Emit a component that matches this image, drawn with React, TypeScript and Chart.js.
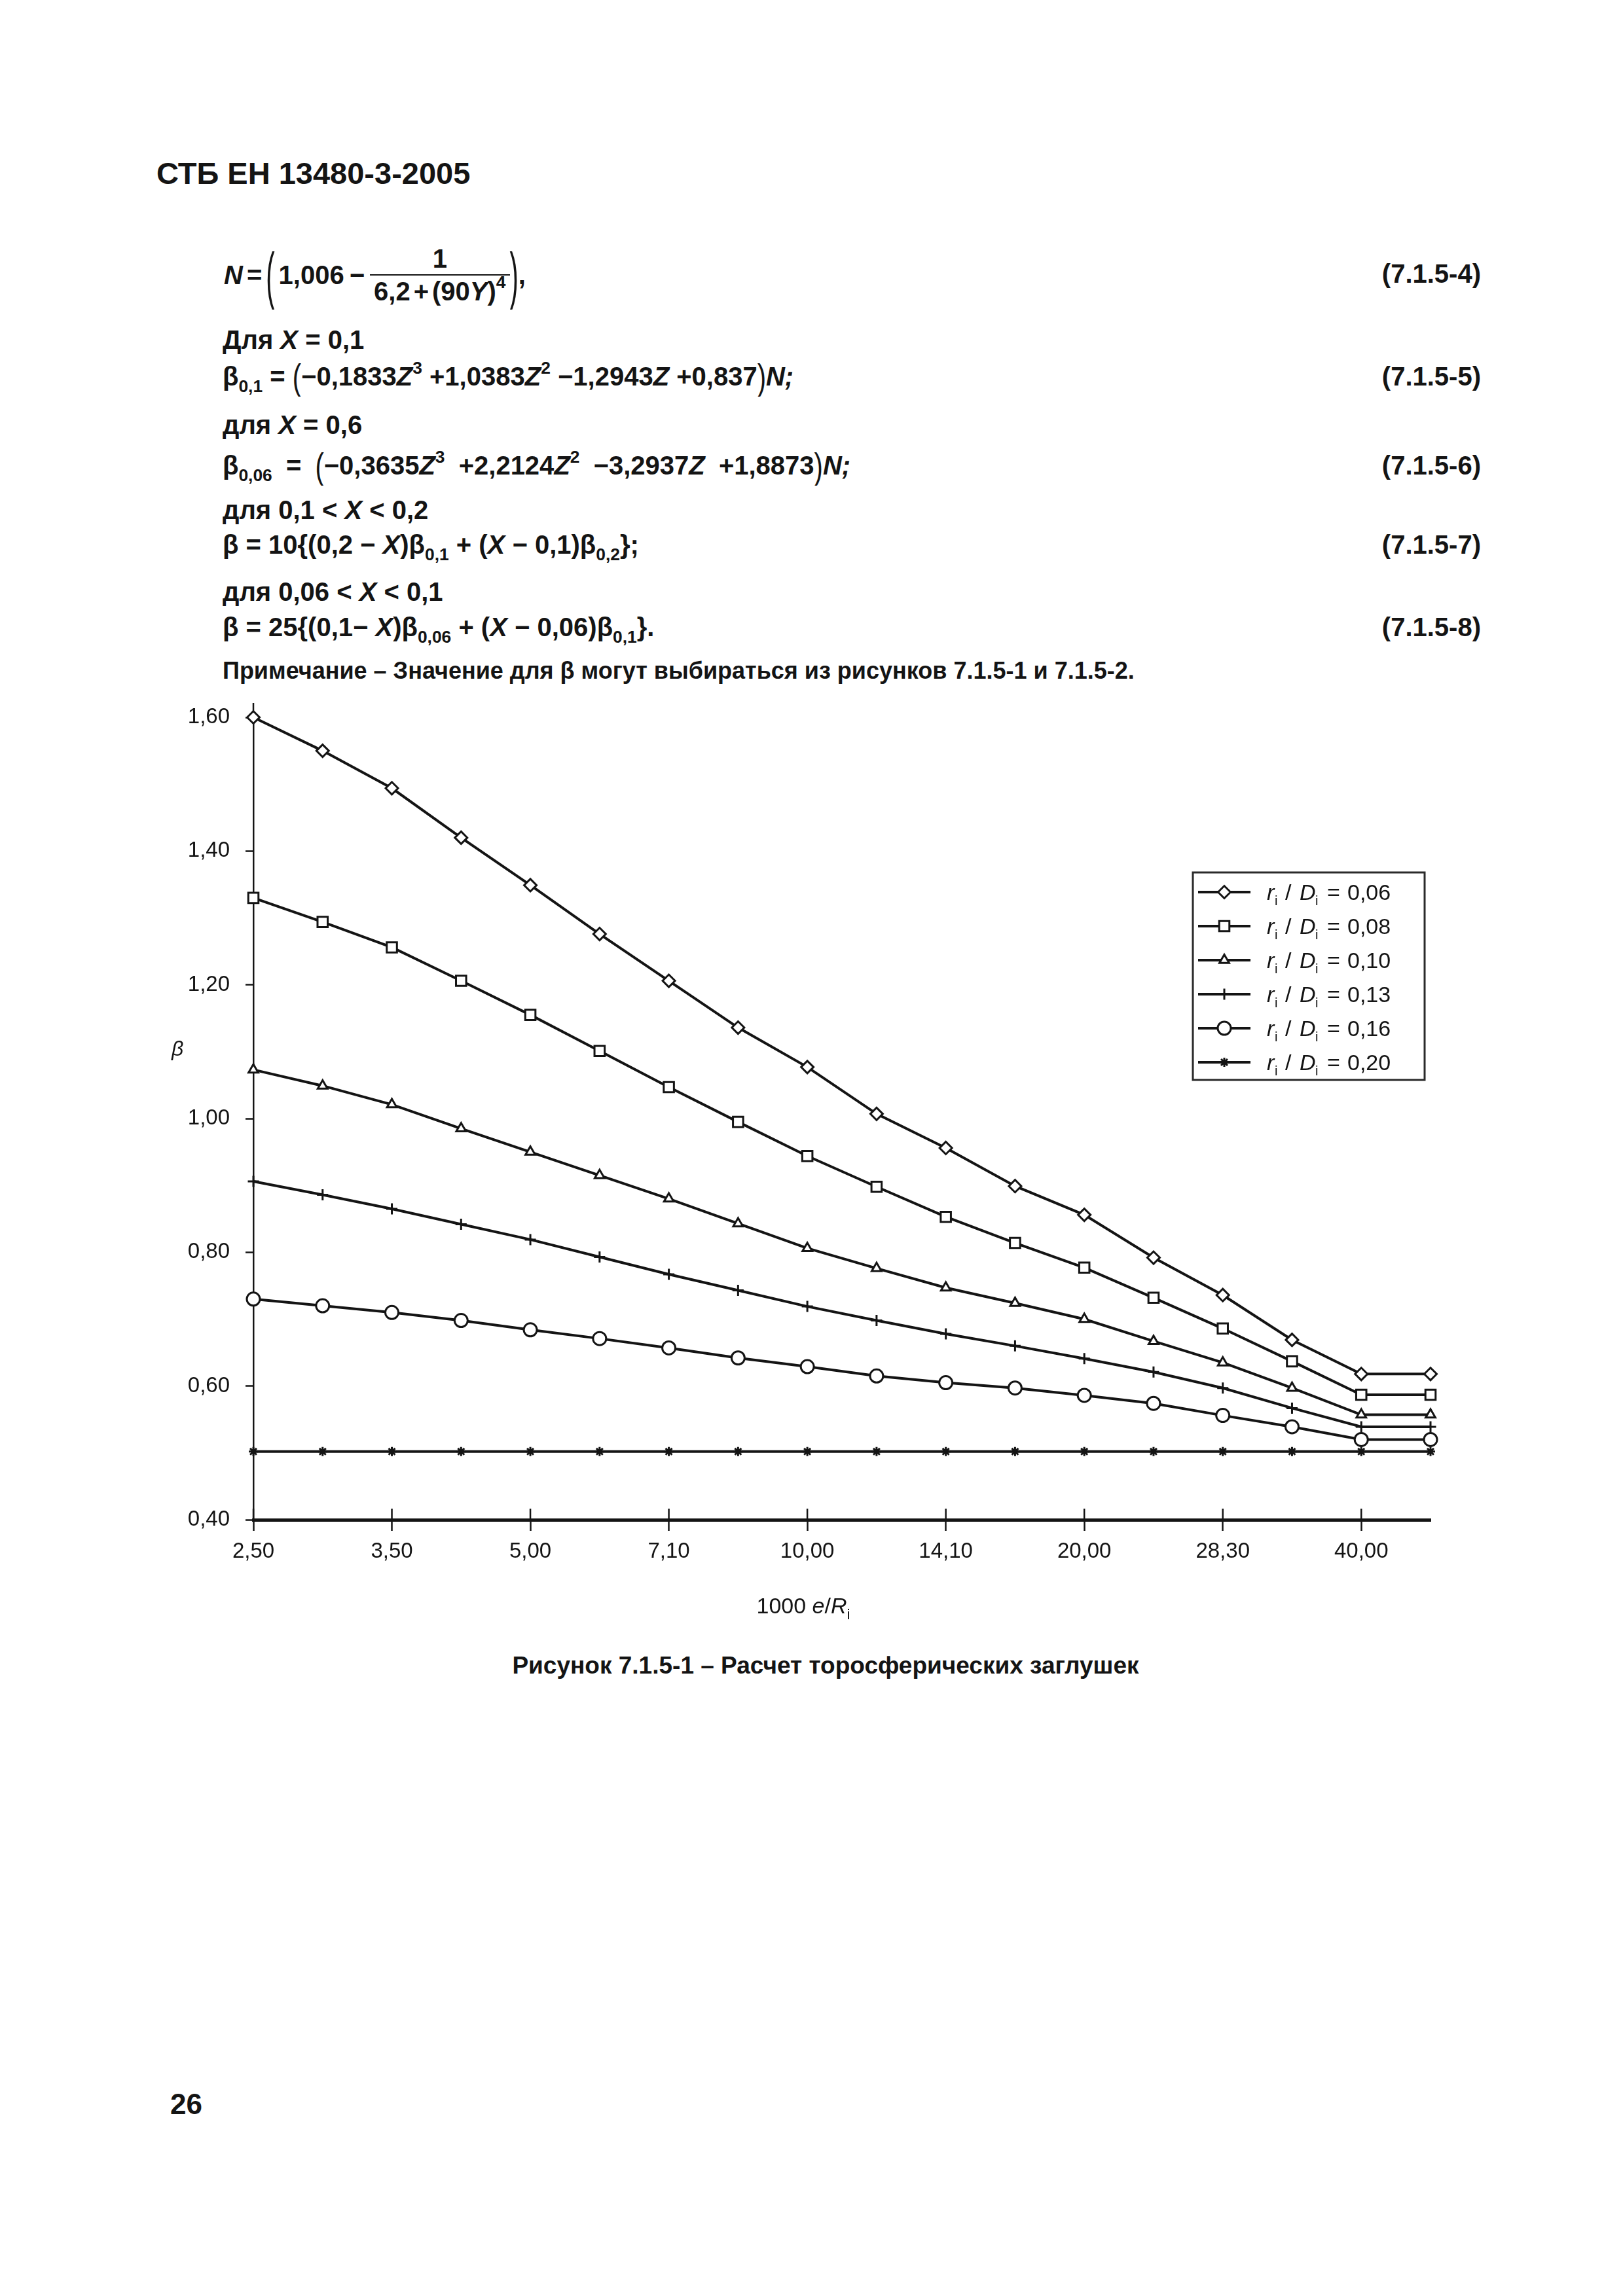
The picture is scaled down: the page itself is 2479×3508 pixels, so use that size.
import React, { useEffect, useRef } from "react";
import { Chart, registerables } from "chart.js";
import { drawPoint } from "chart.js/helpers";

Chart.register(...registerables);

// ---------------- data ----------------
const xTickLabels = ["2,50", "", "3,50", "", "5,00", "", "7,10", "", "10,00", "", "14,10", "", "20,00", "", "28,30", "", "40,00", ""];
const seriesRatios = ["0,06", "0,08", "0,10", "0,13", "0,16", "0,20"];
const beta006 = [1.600, 1.550, 1.494, 1.420, 1.349, 1.276, 1.206, 1.136, 1.077, 1.007, 0.956, 0.899, 0.856, 0.792, 0.736, 0.669, 0.618, 0.618];
const beta008 = [1.330, 1.294, 1.256, 1.206, 1.155, 1.101, 1.047, 0.995, 0.944, 0.898, 0.853, 0.814, 0.777, 0.732, 0.686, 0.637, 0.587, 0.587];
const beta010 = [1.073, 1.049, 1.021, 0.985, 0.950, 0.915, 0.880, 0.843, 0.806, 0.776, 0.747, 0.724, 0.700, 0.667, 0.635, 0.597, 0.557, 0.557];
const beta013 = [0.906, 0.886, 0.865, 0.842, 0.819, 0.793, 0.767, 0.743, 0.719, 0.698, 0.678, 0.660, 0.641, 0.621, 0.597, 0.567, 0.539, 0.539];
const beta016 = [0.730, 0.720, 0.710, 0.698, 0.684, 0.671, 0.657, 0.642, 0.629, 0.615, 0.605, 0.597, 0.586, 0.574, 0.556, 0.539, 0.520, 0.520];
const beta020 = [0.502, 0.502, 0.502, 0.502, 0.502, 0.502, 0.502, 0.502, 0.502, 0.502, 0.502, 0.502, 0.502, 0.502, 0.502, 0.502, 0.502, 0.502];
const yTickMin = 0.4;
const yTickMax = 1.6;
const yTickStep = 0.2;

// ---------------- styles ----------------
const FONT = "'Liberation Sans', Arial, Helvetica, sans-serif";
const INK = "#141414";
const markerStyles = [
  { pointStyle: "rectRot", radius: 9.5 },
  { pointStyle: "rect", radius: 11 },
  { pointStyle: "triangle", radius: 8.5 },
  { pointStyle: "cross", radius: 8.5 },
  { pointStyle: "circle", radius: 10 },
  { pointStyle: "star", radius: 7 },
];

const axisExtras = {
  id: "axisExtras",
  beforeDatasetsDraw(chart: any) {
    const { ctx, chartArea, scales } = chart;
    ctx.save();
    ctx.strokeStyle = INK;
    ctx.lineWidth = 2.5;
    xTickLabels.forEach((lab, i) => {
      if (!lab) return;
      const px = scales.x.getPixelForValue(i);
      ctx.beginPath();
      ctx.moveTo(px, chartArea.bottom - 17);
      ctx.lineTo(px, chartArea.bottom);
      ctx.stroke();
    });
    ctx.beginPath();
    ctx.moveTo(chartArea.left, chartArea.top);
    ctx.lineTo(chartArea.left, chartArea.top - 22);
    ctx.stroke();
    ctx.restore();
  },
};

const legendBox = {
  id: "legendBox",
  afterDraw(chart: any) {
    const { ctx, chartArea } = chart;
    const w = 354;
    const h = 317;
    const left = chartArea.right - 9 - w;
    const top = chartArea.top + 237;
    ctx.save();
    ctx.fillStyle = "#fff";
    ctx.fillRect(left, top, w, h);
    ctx.strokeStyle = "#2a2a2a";
    ctx.lineWidth = 3;
    ctx.strokeRect(left, top, w, h);
    chart.data.datasets.forEach((ds: any, i: number) => {
      const y = top + 30 + i * 52;
      ctx.strokeStyle = INK;
      ctx.lineWidth = 4;
      ctx.beginPath();
      ctx.moveTo(left + 8, y);
      ctx.lineTo(left + 88, y);
      ctx.stroke();
      ctx.fillStyle = "#fff";
      ctx.lineWidth = 3;
      drawPoint(ctx, { pointStyle: ds.pointStyle, radius: ds.pointRadius, rotation: 0, borderWidth: 3 } as any, left + 48, y);
      ctx.fillStyle = INK;
      ctx.textBaseline = "alphabetic";
      ctx.textAlign = "left";
      const tx = left + 113;
      const base = y + 12;
      const big = `34px ${FONT}`;
      const it = `italic 34px ${FONT}`;
      const sm = `20px ${FONT}`;
      ctx.font = it; ctx.fillText("r", tx, base);
      ctx.font = sm; ctx.fillText("i", tx + 12, base + 8);
      ctx.font = big; ctx.fillText("/", tx + 28, base);
      ctx.font = it; ctx.fillText("D", tx + 50, base);
      ctx.font = sm; ctx.fillText("i", tx + 74, base + 8);
      ctx.font = big; ctx.fillText("=", tx + 92, base);
      ctx.fillText(seriesRatios[i], tx + 123, base);
    });
    ctx.restore();
  },
};

function BetaChart() {
  const ref = useRef<HTMLCanvasElement | null>(null);
  useEffect(() => {
    if (!ref.current) return;
    const seriesValues = [beta006, beta008, beta010, beta013, beta016, beta020];
    const chart = new Chart(ref.current, {
      type: "line",
      data: {
        labels: xTickLabels,
        datasets: seriesValues.map((vals, i) => ({
          label: `ri / Di = ${seriesRatios[i]}`,
          data: vals,
          borderColor: INK,
          borderWidth: 4,
          pointStyle: markerStyles[i].pointStyle as any,
          pointRadius: markerStyles[i].radius,
          pointBackgroundColor: "#fff",
          pointBorderColor: INK,
          pointBorderWidth: 3,
          fill: false,
          tension: 0,
          clip: false as any,
        })),
      },
      options: {
        animation: false,
        responsive: false,
        devicePixelRatio: 1,
        layout: { padding: { left: 0, right: 115, top: 46, bottom: 0 } },
        plugins: { legend: { display: false }, tooltip: { enabled: false }, title: { display: false } },
        scales: {
          x: {
            type: "category",
            offset: false,
            grid: {
              drawOnChartArea: false,
              drawTicks: true,
              tickLength: 17,
              tickWidth: 2.5,
              tickColor: (c: any) => (xTickLabels[c.index] ? INK : "rgba(0,0,0,0)"),
            },
            border: { display: true, color: INK, width: 5 },
            ticks: {
              autoSkip: false,
              maxRotation: 0,
              minRotation: 0,
              padding: 12,
              color: INK,
              font: { family: FONT, size: 33 },
            },
            afterFit: (s: any) => { s.height = 118; },
          },
          y: {
            type: "linear",
            min: yTickMin,
            max: yTickMax,
            ticks: {
              stepSize: yTickStep,
              padding: 24,
              color: INK,
              font: { family: FONT, size: 33 },
              callback: (v: any) => Number(v).toFixed(2).replace(".", ","),
            },
            grid: { drawOnChartArea: false, tickLength: 12, tickWidth: 2.5, tickColor: INK },
            border: { display: true, color: INK, width: 2.5 },
            afterFit: (s: any) => { s.width = 187; },
          },
        },
      } as any,
      plugins: [axisExtras, legendBox],
    });
    return () => chart.destroy();
  }, []);
  return (
    <canvas ref={ref} width={2100} height={1390} style={{ position: "absolute", left: 200, top: 1050, width: 2100, height: 1390 }} />
  );
}

const Sub = ({ children }: any) => (
  <span style={{ fontSize: "0.66em", position: "relative", top: "0.38em" }}>{children}</span>
);
const Sup = ({ children }: any) => (
  <span style={{ fontSize: "0.66em", position: "relative", top: "-0.7em" }}>{children}</span>
);
const Paren = ({ ch, scale }: any) => (
  <span style={{ display: "inline-block", transform: `scaleY(${scale})`, fontWeight: 400 }}>{ch}</span>
);

const textBase: React.CSSProperties = {
  position: "absolute",
  fontFamily: FONT,
  color: INK,
  lineHeight: 1,
  whiteSpace: "nowrap",
  fontWeight: 700,
};

function Line({ top, left = 340, size = 40, children, style }: any) {
  return <div style={{ ...textBase, left, top, fontSize: size, ...style }}>{children}</div>;
}
function EqNo({ top, children }: any) {
  return <div style={{ ...textBase, right: 217, top, fontSize: 40 }}>{children}</div>;
}

export default function App() {
  return (
    <div style={{ position: "absolute", left: 0, top: 0, width: 2479, height: 3508, background: "#fff", overflow: "hidden" }}>
      <Line top={241} left={239} size={47}>СТБ ЕН 13480-3-2005</Line>

      {/* N formula */}
      <div style={{ ...textBase, left: 342, top: 365, height: 109, fontSize: 40, display: "flex", alignItems: "center" }}>
        <i>N</i>
        <span style={{ margin: "0 6px" }}>=</span>
        <Paren ch="(" scale={2.4} />
        <span style={{ marginLeft: 6 }}>1,006</span>
        <span style={{ margin: "0 8px" }}>−</span>
        <span style={{ display: "inline-flex", flexDirection: "column", alignItems: "center" }}>
          <span>1</span>
          <span style={{ alignSelf: "stretch", borderTop: `2.5px solid ${INK}`, margin: "4px 0" }} />
          <span style={{ padding: "0 6px" }}>
            6,2<span style={{ margin: "0 5px" }}>+</span>(90<i>Y</i>)<Sup>4</Sup>
          </span>
        </span>
        <Paren ch=")" scale={2.4} />
        <span>,</span>
      </div>
      <EqNo top={398}>(7.1.5-4)</EqNo>

      <Line top={499}>Для <i>X</i> = 0,1</Line>
      <Line top={555}>
        β<Sub>0,1</Sub> = <Paren ch="(" scale={1.4} />−0,1833<i>Z</i><Sup>3</Sup> +1,0383<i>Z</i><Sup>2</Sup> −1,2943<i>Z</i> +0,837<Paren ch=")" scale={1.4} /><i>N;</i>
      </Line>
      <EqNo top={555}>(7.1.5-5)</EqNo>

      <Line top={629}>для <i>X</i> = 0,6</Line>
      <Line top={691} style={{ wordSpacing: 10 }}>
        β<Sub>0,06</Sub> = <Paren ch="(" scale={1.4} />−0,3635<i>Z</i><Sup>3</Sup> +2,2124<i>Z</i><Sup>2</Sup> −3,2937<i>Z</i> +1,8873<Paren ch=")" scale={1.4} /><i>N;</i>
      </Line>
      <EqNo top={691}>(7.1.5-6)</EqNo>

      <Line top={759}>для 0,1 &lt; <i>X</i> &lt; 0,2</Line>
      <Line top={812}>
        β = 10{"{"}(0,2 − <i>X</i>)β<Sub>0,1</Sub> + (<i>X</i> − 0,1)β<Sub>0,2</Sub>{"}"};
      </Line>
      <EqNo top={812}>(7.1.5-7)</EqNo>

      <Line top={884}>для 0,06 &lt; <i>X</i> &lt; 0,1</Line>
      <Line top={938}>
        β = 25{"{"}(0,1− <i>X</i>)β<Sub>0,06</Sub> + (<i>X</i> − 0,06)β<Sub>0,1</Sub>{"}"}.
      </Line>
      <EqNo top={938}>(7.1.5-8)</EqNo>

      <Line top={1007} size={36}>
        Примечание – Значение для β могут выбираться из рисунков 7.1.5-1 и 7.1.5-2.
      </Line>

      <BetaChart />

      <div style={{ ...textBase, fontWeight: 400, fontStyle: "italic", fontSize: 32, left: 262, top: 1586 }}>β</div>
      <div style={{ ...textBase, fontWeight: 400, fontSize: 34, left: 1227, top: 2436, transform: "translateX(-50%)" }}>
        1000 <i>e</i>/<i>R</i><Sub>i</Sub>
      </div>

      <div style={{ ...textBase, fontSize: 37, left: 1261, top: 2526, transform: "translateX(-50%)" }}>
        Рисунок 7.1.5-1 – Расчет торосферических заглушек
      </div>

      <Line top={3193} left={260} size={44}>26</Line>
    </div>
  );
}
